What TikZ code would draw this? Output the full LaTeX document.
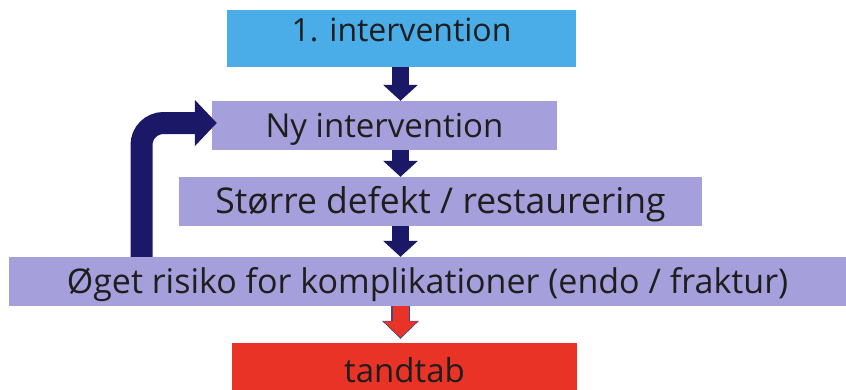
\documentclass[tikz,border=0pt]{standalone}
\usepackage{fontspec}
\setmainfont{Open Sans}
\usepackage{tikz}
\usetikzlibrary{arrows.meta}
\usetikzlibrary{positioning,calc}

\definecolor{firstblue}{RGB}{74,173,232}
\definecolor{steplilac}{RGB}{165,159,219}
\definecolor{lossred}{RGB}{233,51,38}
\definecolor{arrownavy}{RGB}{28,24,104}
\definecolor{textgrey}{RGB}{30,30,30}

\begin{document}
\begin{tikzpicture}[x=1pt,y=-1pt,
  box/.style={inner sep=0pt,text=textgrey,font=\fontsize{32}{32}\selectfont,
    text height=23pt,text depth=0pt,minimum height=49pt},
  stepbox/.style={box,fill=steplilac},
  flowarrow/.style={line width=17pt,draw=arrownavy,
    -{Triangle[width=34pt,length=16pt]}},
  looparrow/.style={line width=22pt,draw=arrownavy,rounded corners=22pt,
    -{Triangle[width=45pt,length=22pt]},shorten >=-5pt}]
\useasboundingbox (0,0) rectangle (846,389);
\clip (0,0) rectangle (846,389);
%
\node[box,fill=firstblue,minimum width=349pt,minimum height=57pt,text depth=18pt] (int1) at (401.5,38.5) {1. intervention};
\node[stepbox,minimum width=345pt,font=\fontsize{33}{33}\selectfont] (ny) at (384.5,125.5) {Ny intervention};
\node[stepbox,minimum width=523pt,font=\fontsize{35.5}{35.5}\selectfont,text height=24pt] (stoerre) at (440.5,201.5) {Større defekt / restaurering};
\node[stepbox,minimum width=837pt,font=\fontsize{34}{34}\selectfont,text height=24pt] (oeget) at (427.5,281.5) {Øget risiko for komplikationer (endo / fraktur)};
\node[box,fill=lossred,minimum width=345pt,minimum height=60pt,text depth=5pt,font=\fontsize{33}{33}\selectfont] (tandtab) at (404.5,373) {tandtab};
%
\coordinate (col) at (400.5,0);
\coordinate (loopx) at (141.5,0);
%
\path (int1.south -| col) edge[flowarrow] (ny.north -| col);
\path (ny.south -| col) edge[flowarrow] (stoerre.north -| col);
\path (stoerre.south -| col) edge[flowarrow] (oeget.north -| col);
%
\path (oeget.south -| col) edge[line width=19pt,draw=arrownavy!80,-{Triangle[width=36pt,length=18pt]},shorten >=4pt] (tandtab.north -| col);
\path (oeget.south -| col) edge[line width=16pt,draw=lossred,-{Triangle[width=33pt,length=16pt]},shorten >=5.5pt] (tandtab.north -| col);
%
\draw[looparrow] (oeget.north -| loopx) |- ([yshift=2.5pt]ny.west);
\end{tikzpicture}
\end{document}
